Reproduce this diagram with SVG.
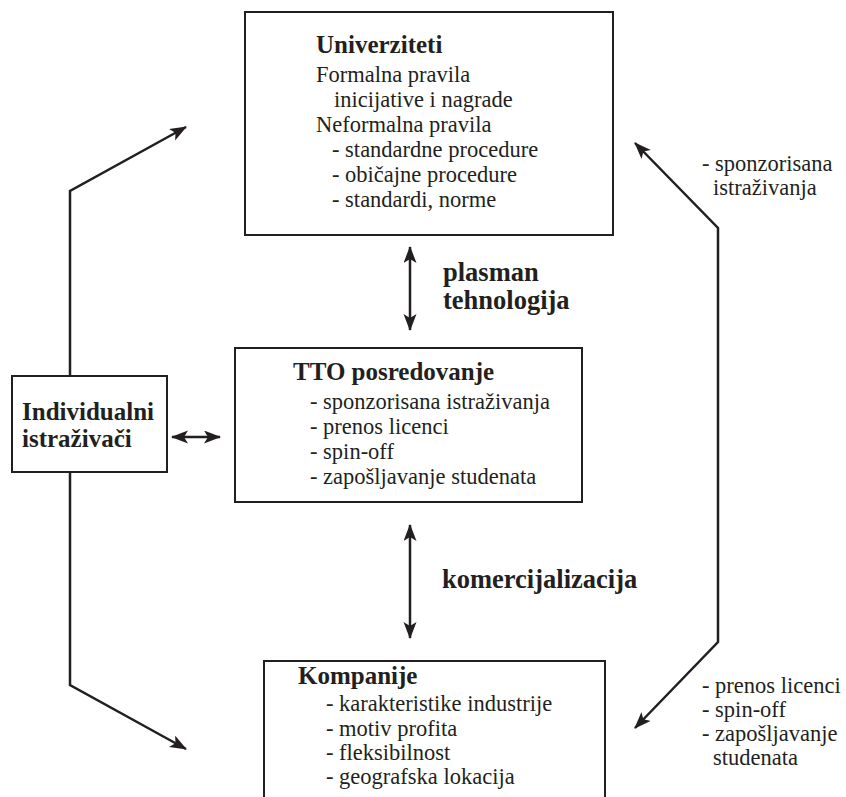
<svg xmlns="http://www.w3.org/2000/svg" width="846" height="797" viewBox="0 0 846 797">
<style>
.box{fill:#fff;stroke:#231f20;stroke-width:2}
.t{font-family:"Liberation Serif","Times New Roman",serif;fill:#231f20;font-size:22.5px}
.b{font-family:"Liberation Serif","Times New Roman",serif;fill:#231f20;font-weight:bold;font-size:25px}
.lbl{font-family:"Liberation Serif","Times New Roman",serif;fill:#231f20;font-weight:bold;font-size:26.5px}
.c{fill:none;stroke:#231f20;stroke-width:2.5}
</style>
<defs>
<marker id="ah" markerUnits="userSpaceOnUse" markerWidth="18" markerHeight="14" refX="16" refY="6.5" orient="auto-start-reverse">
<path d="M0,0 L17,6.5 L0,13 L4,6.5 z" fill="#231f20"/>
</marker>
</defs>
<rect width="846" height="797" fill="#fff"/>
<g id="connectors">
<path class="c" d="M70,376 V191 L186,127" marker-end="url(#ah)"/>
<path class="c" d="M70,472 V685 L186,749" marker-end="url(#ah)"/>
<path class="c" d="M172,437 H220" marker-start="url(#ah)" marker-end="url(#ah)"/>
<path class="c" d="M410,247 V330" marker-start="url(#ah)" marker-end="url(#ah)"/>
<path class="c" d="M410,525 V638" marker-start="url(#ah)" marker-end="url(#ah)"/>
<path class="c" d="M635,143 L718,228 V642 L635,728" marker-start="url(#ah)" marker-end="url(#ah)"/>
</g>
<g id="univerziteti">
<rect class="box" x="245" y="12" width="368" height="223"/>
<text class="b" x="316" y="53">Univerziteti</text>
<text class="t" x="316" y="82">Formalna pravila</text>
<text class="t" x="334" y="107">inicijative i nagrade</text>
<text class="t" x="316" y="132">Neformalna pravila</text>
<text class="t" x="332" y="157">- standardne procedure</text>
<text class="t" x="332" y="182">- običajne procedure</text>
<text class="t" x="332" y="207">- standardi, norme</text>
</g>
<g id="tto">
<rect class="box" x="235" y="348" width="347" height="154"/>
<text class="b" x="293" y="380">TTO posredovanje</text>
<text class="t" x="310" y="409">- sponzorisana istraživanja</text>
<text class="t" x="310" y="434">- prenos licenci</text>
<text class="t" x="310" y="459">- spin-off</text>
<text class="t" x="310" y="484">- zapošljavanje studenata</text>
</g>
<g id="kompanije">
<rect class="box" x="264" y="661" width="341" height="160"/>
<text class="b" x="298" y="684">Kompanije</text>
<text class="t" x="326" y="711">- karakteristike industrije</text>
<text class="t" x="326" y="736">- motiv profita</text>
<text class="t" x="326" y="760">- fleksibilnost</text>
<text class="t" x="326" y="784">- geografska lokacija</text>
</g>
<g id="individualni">
<rect class="box" x="12" y="376" width="155" height="96"/>
<text class="b" x="22" y="420">Individualni</text>
<text class="b" x="22" y="447">istraživači</text>
</g>
<g id="labels">
<text class="lbl" x="443" y="281">plasman</text>
<text class="lbl" x="443" y="309">tehnologija</text>
<text class="lbl" x="442" y="588">komercijalizacija</text>
<text class="t" x="702" y="171">- sponzorisana</text>
<text class="t" x="713" y="195">istraživanja</text>
<text class="t" x="702" y="693">- prenos licenci</text>
<text class="t" x="702" y="717">- spin-off</text>
<text class="t" x="702" y="741">- zapošljavanje</text>
<text class="t" x="713" y="765">studenata</text>
</g>
</svg>
